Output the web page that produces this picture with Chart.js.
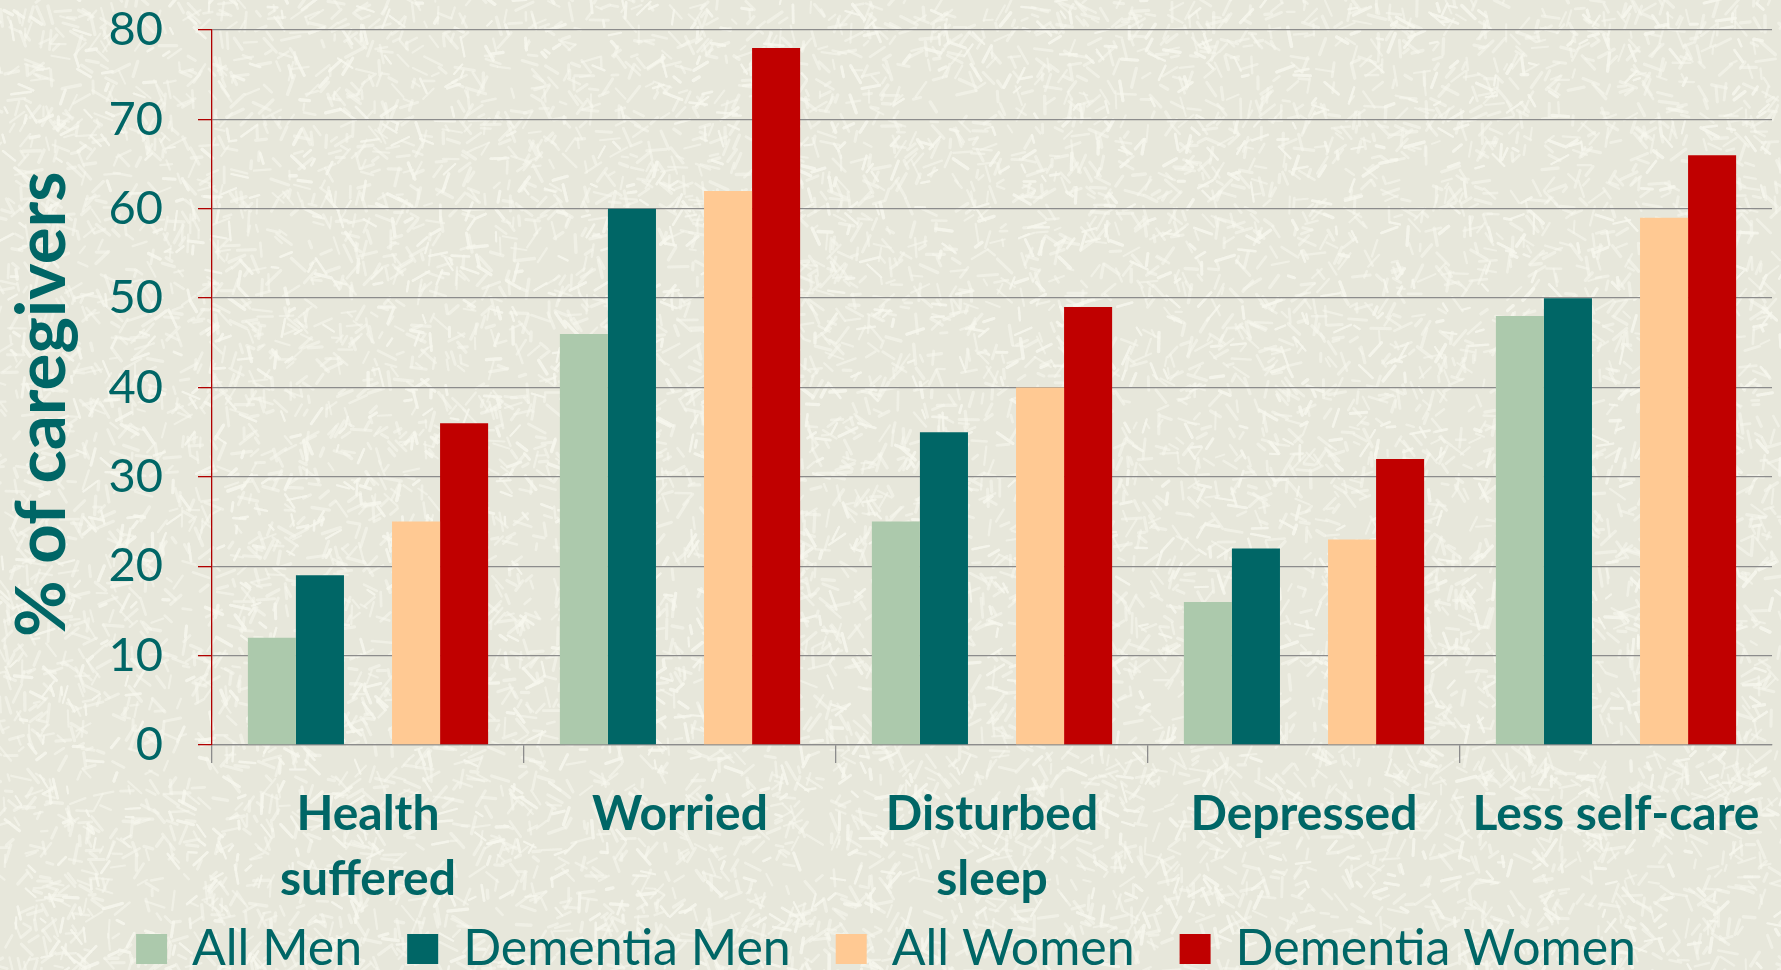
<!DOCTYPE html>
<html>
<head>
<meta charset="utf-8">
<script src="https://cdn.jsdelivr.net/npm/chart.js@4/dist/chart.umd.min.js"></script>
<style>
  html, body { margin: 0; padding: 0; overflow: hidden; background: #e9e9dd; }
  #wrap { width: 1781px; height: 984px; position: relative; }
</style>
</head>
<body>
<div id="wrap"><canvas id="chart"></canvas></div>
<script>
// data
const categories = [['Health', 'suffered'], 'Worried', ['Disturbed', 'sleep'], 'Depressed', 'Less self-care'];
const allMen = [12, 46, 25, 16, 48];
const dementiaMen = [19, 60, 35, 22, 50];
const allWomen = [25, 62, 40, 23, 59];
const dementiaWomen = [36, 78, 49, 32, 66];
const spacer = [null, null, null, null, null]; // empty slot between men and women
const yTicks = [0, 10, 20, 30, 40, 50, 60, 70, 80];

const teal = '#006666';
const gridGray = '#8c8c8c';

// paper-like textured background
const paperBg = {
  id: 'paperBg',
  beforeDraw(chart) {
    const ctx = chart.ctx;
    const w = chart.width, h = chart.height;
    ctx.save();
    ctx.fillStyle = '#e7e7db';
    ctx.fillRect(0, 0, w, h);
    let seed = 12345;
    const rnd = () => { seed = (seed * 1103515245 + 12345) % 2147483648; return seed / 2147483648; };
    ctx.strokeStyle = 'rgba(248,248,238,0.55)';
    ctx.lineCap = 'round';
    for (let i = 0; i < 14000; i++) {
      const x = rnd() * w, y = rnd() * h;
      const a = rnd() * Math.PI * 2;
      const len = 6 + rnd() * 14;
      ctx.lineWidth = 2 + rnd() * 1.5;
      ctx.beginPath();
      ctx.moveTo(x, y);
      ctx.lineTo(x + Math.cos(a) * len, y + Math.sin(a) * len);
      ctx.stroke();
    }
    ctx.restore();
  },
  // let the two-line category labels run below the axis box without clipping
  afterLayout(chart) {
    chart.scales.x.bottom = chart.height;
  }
};

new Chart(document.getElementById('chart'), {
  type: 'bar',
  data: {
    labels: categories,
    datasets: [
      { label: 'All Men', data: allMen, backgroundColor: '#acc9ac' },
      { label: 'Dementia Men', data: dementiaMen, backgroundColor: '#006666' },
      { label: '', data: spacer, backgroundColor: 'rgba(0,0,0,0)' },
      { label: 'All Women', data: allWomen, backgroundColor: '#ffc993' },
      { label: 'Dementia Women', data: dementiaWomen, backgroundColor: '#c00000' }
    ]
  },
  options: {
    responsive: true,
    maintainAspectRatio: false,
    animation: false,
    categoryPercentage: 0.77,
    barPercentage: 1.0,
    layout: { padding: { top: 0, right: 9, left: 0, bottom: 0 } },
    plugins: {
      tooltip: { enabled: false },
      legend: {
        position: 'bottom',
        labels: {
          filter: item => item.text !== '',
          boxWidth: 31,
          boxHeight: 30,
          padding: 45,
          color: teal,
          font: { family: 'Lato', size: 50 }
        }
      }
    },
    scales: {
      x: {
        afterFit: s => { s.height = 134; },
        border: { color: gridGray, width: 1.3 },
        grid: {
          drawOnChartArea: false,
          tickLength: 18,
          tickColor: ctx => ctx.type === 'tick' ? gridGray : 'rgba(0,0,0,0)',
          lineWidth: 1.3
        },
        ticks: {
          color: teal,
          padding: 19,
          maxRotation: 0,
          autoSkip: false,
          font: { family: 'Lato', size: 48, weight: 'bold', lineHeight: 1.35 }
        }
      },
      y: {
        min: 0,
        max: 80,
        afterFit: s => { s.width = 212; s.paddingTop = 30; s.paddingBottom = 0; },
        afterBuildTicks: s => { s.ticks = yTicks.map(v => ({ value: v })); },
        border: { color: '#b00000', width: 1.3 },
        grid: { color: gridGray, lineWidth: 1.3, tickLength: 14, tickColor: '#b00000' },
        ticks: {
          color: teal,
          padding: 35,
          font: { family: 'Lato', size: 47 }
        },
        title: {
          display: true,
          text: '% of caregivers  ',
          color: teal,
          padding: { top: 1, bottom: 0 },
          font: { family: 'Lato', size: 69, weight: 'bold', lineHeight: 1.2 }
        }
      }
    }
  },
  plugins: [paperBg]
});
</script>
</body>
</html>
